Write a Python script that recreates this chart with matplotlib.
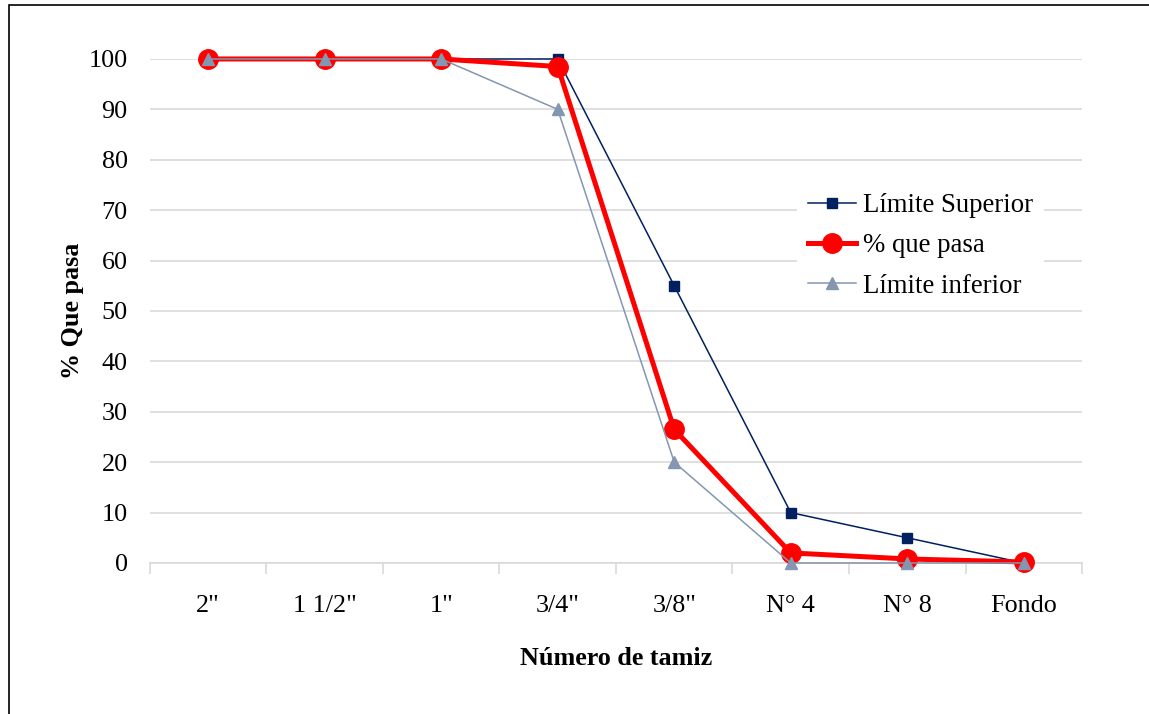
#!/usr/bin/env python3

import matplotlib.pyplot as plt
from matplotlib.patches import Rectangle

plt.rcParams['font.family'] = ['Liberation Serif', 'DejaVu Serif']

tamices = ['2"', '1 1/2"', '1"', '3/4"', '3/8"', 'N° 4', 'N° 8', 'Fondo']
limite_superior = [100, 100, 100, 100, 55, 10, 5, 0]
que_pasa = [100, 100, 100, 98.5, 26.5, 2.0, 0.8, 0.2]
limite_inferior = [100, 100, 100, 90, 20, 0, 0, 0]


def main():
    fig = plt.figure(figsize=(11.49, 7.14), dpi=100)
    ax = fig.add_axes([0.1305, 0.2115, 0.8112, 0.7059])

    # outer frame of the chart object
    fig.patches.append(Rectangle((9 / 1149, -0.05), 1.1, 0.05 + 1 - 5 / 714,
                                 transform=fig.transFigure, fill=False,
                                 edgecolor='black', linewidth=1.2))

    x = list(range(len(tamices)))
    ax.plot(x, limite_superior, color='#002060', linewidth=1.1, marker='s',
            markersize=7, label='Límite Superior', clip_on=False, zorder=3)
    ax.plot(x, que_pasa, color='#ff0000', linewidth=3.6, marker='o',
            markersize=14, label='% que pasa', clip_on=False, zorder=4)
    ax.plot(x, limite_inferior, color='#8496b0', linewidth=1.1, marker='^',
            markersize=8, label='Límite inferior', clip_on=False, zorder=5)

    ax.set_xlim(-0.5, len(tamices) - 0.5)
    ax.set_ylim(0, 100)
    ax.set_yticks(range(0, 101, 10))
    ax.set_xticks(x)
    ax.set_xticklabels(tamices)
    ax.set_xticks([i - 0.5 for i in range(len(tamices) + 1)], minor=True)
    ax.tick_params(axis='x', which='major', length=0, pad=23, labelsize=18.8)
    ax.tick_params(axis='x', which='minor', length=8, color='#d9d9d9',
                   width=1.2, direction='out')
    ax.tick_params(axis='y', length=0, pad=16, labelsize=18.8)

    ax.grid(axis='y', color='#d9d9d9', linewidth=1.2, zorder=0)
    ax.set_axisbelow(True)
    for side in ('top', 'right', 'left'):
        ax.spines[side].set_visible(False)
    ax.spines['bottom'].set_color('#d9d9d9')
    ax.spines['bottom'].set_linewidth(1.2)

    ax.set_xlabel('Número de tamiz', fontsize=18.8, fontweight='bold',
                  labelpad=22)
    ax.set_ylabel('% Que pasa', fontsize=18.8, fontweight='bold', labelpad=3)

    leg = ax.legend(loc='upper left', bbox_to_anchor=(0.6797, 0.782),
                    frameon=True, fontsize=19.3, handlelength=1.8,
                    handletextpad=0.27, labelspacing=0.57, borderpad=0.4,
                    fancybox=False)
    leg.get_frame().set_edgecolor('none')
    leg.get_frame().set_facecolor('white')
    leg.get_frame().set_alpha(1)

    fig.savefig('out.png', dpi=100)


if __name__ == '__main__':
    main()
